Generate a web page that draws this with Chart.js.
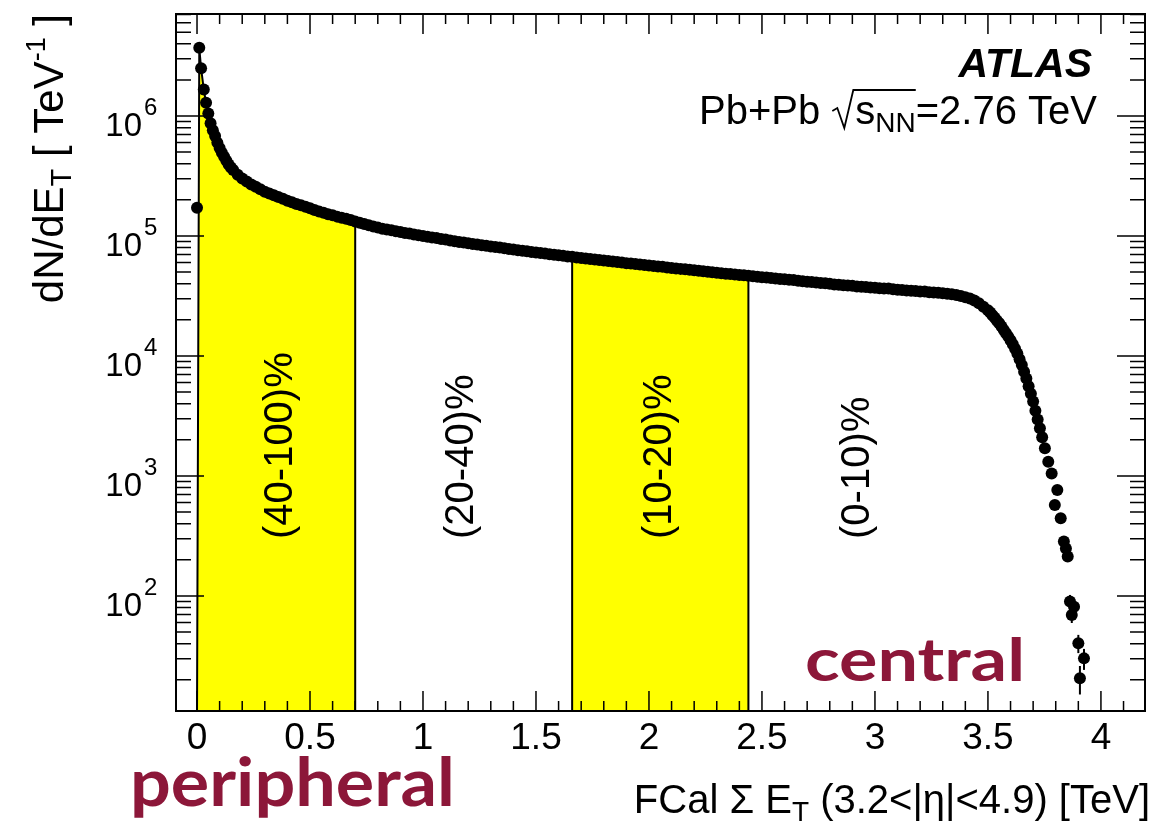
<!DOCTYPE html>
<html>
<head>
<meta charset="utf-8">
<script src="https://cdn.jsdelivr.net/npm/chart.js@4.4.1/dist/chart.umd.min.js"></script>
<style>
  html, body { margin: 0; padding: 0; background: #fff; }
  canvas { display: block; }
</style>
</head>
<body>
<canvas id="fcalChart" width="1157" height="830"></canvas>
<script>
// FCal sum ET [TeV] and dN/dET [TeV^-1]
const etSteep = [0.000, 0.010, 0.018, 0.030, 0.040, 0.050, 0.060, 0.070, 0.080, 0.090, 0.100, 0.110, 0.120, 0.130, 0.140, 0.150];
const dndetSteep = [172e3, 3.7e6, 2.5e6, 1.66e6, 1.29e6, 1.05e6, 870e3, 760e3, 680e3, 600e3, 540e3, 495e3, 457e3, 424e3, 394e3, 372e3];

const etBulk = [
  0.16, 0.18, 0.20, 0.22, 0.24, 0.26, 0.28, 0.30, 0.32, 0.34,
  0.36, 0.38, 0.40, 0.42, 0.44, 0.46, 0.48, 0.50, 0.52, 0.54,
  0.56, 0.58, 0.60, 0.62, 0.64, 0.66, 0.68, 0.70, 0.72, 0.74,
  0.76, 0.78, 0.80, 0.82, 0.84, 0.86, 0.88, 0.90, 0.92, 0.94,
  0.96, 0.98, 1.00, 1.02, 1.04, 1.06, 1.08, 1.10, 1.12, 1.14,
  1.16, 1.18, 1.20, 1.22, 1.24, 1.26, 1.28, 1.30, 1.32, 1.34,
  1.36, 1.38, 1.40, 1.42, 1.44, 1.46, 1.48, 1.50, 1.52, 1.54,
  1.56, 1.58, 1.60, 1.62, 1.64, 1.66, 1.68, 1.70, 1.72, 1.74,
  1.76, 1.78, 1.80, 1.82, 1.84, 1.86, 1.88, 1.90, 1.92, 1.94,
  1.96, 1.98, 2.00, 2.02, 2.04, 2.06, 2.08, 2.10, 2.12, 2.14,
  2.16, 2.18, 2.20, 2.22, 2.24, 2.26, 2.28, 2.30, 2.32, 2.34,
  2.36, 2.38, 2.40, 2.42, 2.44, 2.46, 2.48, 2.50, 2.52, 2.54,
  2.56, 2.58, 2.60, 2.62, 2.64, 2.66, 2.68, 2.70, 2.72, 2.74,
  2.76, 2.78, 2.80, 2.82, 2.84, 2.86, 2.88, 2.90, 2.92, 2.94,
  2.96, 2.98, 3.00, 3.02, 3.04, 3.06, 3.08, 3.10, 3.12, 3.14,
  3.16, 3.18, 3.20, 3.22, 3.24, 3.26, 3.28, 3.30, 3.32, 3.34,
  3.36, 3.38, 3.40, 3.42, 3.44, 3.46, 3.48
];
const dndetBulk = [
  355e3, 324e3, 302e3, 285e3, 269e3, 257e3, 245e3, 234e3, 226e3, 219e3,
  211e3, 204e3, 197e3, 191e3, 185e3, 180e3, 175e3, 170e3, 165e3, 160e3,
  156e3, 152e3, 149e3, 145e3, 142e3, 139e3, 136e3, 132e3, 129e3, 126e3,
  123e3, 120e3, 117.5e3, 115e3, 113.5e3, 111.5e3, 109.6e3, 108e3, 106e3, 104.7e3,
  103e3, 101.4e3, 100e3, 98.6e3, 97.3e3, 96.0e3, 94.6e3, 93.3e3, 91.8e3, 90.6e3,
  89.3e3, 88.1e3, 87.1e3, 85.9e3, 84.9e3, 83.9e3, 82.8e3, 81.8e3, 80.9e3, 80.2e3,
  78.9e3, 78.0e3, 77.1e3, 76.2e3, 75.3e3, 74.5e3, 73.6e3, 72.8e3, 72.1e3, 71.3e3,
  70.6e3, 69.8e3, 69.2e3, 68.4e3, 67.6e3, 67.0e3, 66.2e3, 65.6e3, 64.9e3, 64.3e3,
  63.7e3, 63.1e3, 62.4e3, 61.8e3, 61.2e3, 60.7e3, 60.0e3, 59.4e3, 58.9e3, 58.3e3,
  57.8e3, 57.3e3, 56.8e3, 56.2e3, 55.7e3, 55.5e3, 54.7e3, 54.2e3, 53.7e3, 53.2e3,
  52.7e3, 52.2e3, 51.8e3, 51.3e3, 50.8e3, 50.4e3, 49.9e3, 49.4e3, 49.0e3, 48.5e3,
  48.2e3, 47.8e3, 47.3e3, 47.1e3, 46.6e3, 46.1e3, 45.7e3, 45.3e3, 45.0e3, 44.6e3,
  44.2e3, 43.8e3, 43.5e3, 43.1e3, 42.9e3, 42.4e3, 42.0e3, 41.6e3, 41.3e3, 40.9e3,
  40.6e3, 40.3e3, 39.9e3, 39.5e3, 39.3e3, 38.9e3, 38.6e3, 38.4e3, 38.0e3, 37.8e3,
  37.5e3, 37.2e3, 37.0e3, 36.7e3, 36.5e3, 36.5e3, 36.0e3, 35.7e3, 35.5e3, 35.2e3,
  35.0e3, 34.8e3, 34.5e3, 34.5e3, 34.0e3, 33.8e3, 33.6e3, 33.3e3, 33.0e3, 32.7e3,
  32.2e3, 31.6e3, 30.9e3, 30.1e3, 29.0e3, 27.5e3, 25.7e3
];

const etTail = [
  3.50, 3.51, 3.52, 3.53, 3.54, 3.55, 3.56, 3.57, 3.58, 3.59,
  3.60, 3.61, 3.62, 3.63, 3.64, 3.65, 3.66, 3.67, 3.68, 3.69,
  3.70, 3.71, 3.72, 3.73, 3.74, 3.752, 3.767, 3.782, 3.796, 3.807,
  3.822, 3.836, 3.845, 3.853, 3.863, 3.871, 3.881, 3.900, 3.907, 3.925
];
const dndetTail = [
  24.0e3, 23.0e3, 21.9e3, 20.8e3, 19.7e3, 18.7e3, 17.6e3, 16.5e3, 15.5e3, 14.5e3,
  13.5e3, 12.5e3, 11.5e3, 10.5e3, 9.4e3, 8.4e3, 7.4e3, 6.5e3, 5.6e3, 4.85e3,
  4.17e3, 3.5e3, 2.95e3, 2.5e3, 2.1e3, 1.70e3, 1.315e3, 1.05e3, 573, 764,
  444, 284, 249, 213, 90, 69.5, 81.5, 40.4, 20.6, 30.2
];
const errTail = [
  0, 0, 0, 0, 0, 0, 0, 0, 0, 0,
  0, 0, 0, 0, 0, 0, 0, 0, 0, 0,
  0, 0, 0, 0, 0, 0, 0, 0, 0, 0,
  0, 0, 0, 0, 12, 10, 11, 7, 5.5, 6
];

// centrality classes
const bandEdges = [[0, 0.70], [1.66, 2.44]];
const centralityLabels = ['(40-100)%', '(20-40)%', '(10-20)%', '(0-10)%'];

// axes
const xTickValues = [0, 0.5, 1, 1.5, 2, 2.5, 3, 3.5, 4];
const xTickLabels = ['0', '0.5', '1', '1.5', '2', '2.5', '3', '3.5', '4'];
const yTickValues = [1e2, 1e3, 1e4, 1e5, 1e6];
const yTickExps = ['2', '3', '4', '5', '6'];

const X_MIN = -0.093, X_MAX = 4.195;
const Y_MIN = 11, Y_MAX = 7.08e6;
const FONT = '"Liberation Sans", Arial, Helvetica, sans-serif';

function toPoints(xs, ys) {
  return xs.map((x, i) => ({ x: x, y: ys[i] }));
}
const steepPts = toPoints(etSteep, dndetSteep);
const bulkPts = toPoints(etBulk, dndetBulk);
const tailPts = toPoints(etTail, dndetTail);
const allPts = steepPts.concat(bulkPts, tailPts);

// filled region under the points; the low underflow bin at 0 is left out
function bandPoints(lo, hi) {
  const inside = allPts.filter(p => p !== steepPts[0] && p.x >= lo - 1e-9 && p.x <= hi + 1e-9);
  return [{ x: lo, y: Y_MIN }].concat(inside, [{ x: hi, y: Y_MIN }]);
}

function setFont(ctx, size, style) {
  ctx.font = (style ? style + ' ' : '') + size + 'px ' + FONT;
}
function runsWidth(ctx, runs) {
  let w = 0;
  runs.forEach(r => { setFont(ctx, r.size, r.style); w += ctx.measureText(r.text).width; });
  return w;
}
function drawRuns(ctx, runs, x, y) {
  let cx = x;
  runs.forEach(r => {
    setFont(ctx, r.size, r.style);
    ctx.fillText(r.text, cx, y + (r.dy || 0));
    cx += ctx.measureText(r.text).width;
  });
  return cx;
}
function handText(ctx, text, left, right, base, size) {
  ctx.save();
  ctx.font = 'bold ' + size + 'px "Lato", "DejaVu Sans", sans-serif';
  const w = ctx.measureText(text).width;
  ctx.translate(left, base);
  ctx.scale((right - left) / w, 1);
  ctx.textAlign = 'left';
  ctx.fillText(text, 0, 0);
  ctx.restore();
}

const errorBars = {
  id: 'errorBars',
  afterDatasetsDraw(chart) {
    const { ctx, scales: { x: xs, y: ys } } = chart;
    ctx.save();
    ctx.strokeStyle = '#000';
    ctx.lineWidth = 2;
    etTail.forEach((x, i) => {
      if (!errTail[i]) return;
      const px = xs.getPixelForValue(x);
      ctx.beginPath();
      ctx.moveTo(px, ys.getPixelForValue(dndetTail[i] + errTail[i]));
      ctx.lineTo(px, ys.getPixelForValue(dndetTail[i] - errTail[i]));
      ctx.stroke();
    });
    ctx.restore();
  }
};

const atlasFrame = {
  id: 'atlasFrame',
  afterDraw(chart) {
    const { ctx, chartArea: a, scales: { x: xs, y: ys } } = chart;
    ctx.save();
    ctx.strokeStyle = '#000';
    ctx.fillStyle = '#000';

    // frame
    ctx.lineWidth = 2;
    ctx.strokeRect(a.left, a.top, a.right - a.left, a.bottom - a.top);

    // x ticks (bottom and top, pointing in)
    ctx.lineWidth = 1.5;
    ctx.beginPath();
    for (let i = -1; i <= 42; i++) {
      const px = xs.getPixelForValue(i / 10);
      if (px < a.left + 1 || px > a.right - 1) continue;
      const len = i % 5 === 0 ? 20 : 10;
      ctx.moveTo(px, a.bottom); ctx.lineTo(px, a.bottom - len);
      ctx.moveTo(px, a.top); ctx.lineTo(px, a.top + len);
    }
    // y ticks (log, left and right)
    for (let e = 1; e <= 6; e++) {
      for (let m = 1; m <= 9; m++) {
        const v = m * Math.pow(10, e);
        if (v < Y_MIN || v > Y_MAX) continue;
        const py = ys.getPixelForValue(v);
        const len = m === 1 ? 28 : 15;
        ctx.moveTo(a.left, py); ctx.lineTo(a.left + len, py);
        ctx.moveTo(a.right, py); ctx.lineTo(a.right - len, py);
      }
    }
    ctx.stroke();

    // x tick labels
    ctx.textAlign = 'center';
    ctx.textBaseline = 'alphabetic';
    setFont(ctx, 37);
    xTickValues.forEach((v, i) => {
      ctx.fillText(xTickLabels[i], xs.getPixelForValue(v), a.bottom + 38);
    });

    // y tick labels 10^n
    yTickValues.forEach((v, i) => {
      const py = ys.getPixelForValue(v);
      ctx.textAlign = 'right';
      setFont(ctx, 33);
      ctx.fillText('10', 142, py + 20);
      ctx.textAlign = 'left';
      setFont(ctx, 24);
      ctx.fillText(yTickExps[i], 144, py - 1);
    });

    // y axis title, rotated, flush with the top of the frame
    const yTitle = [
      { text: 'dN/dE', size: 42 },
      { text: 'T', size: 29, dy: 8 },
      { text: ' [ TeV', size: 42 },
      { text: '-1', size: 27, dy: -18 },
      { text: ' ]', size: 42 }
    ];
    ctx.save();
    ctx.translate(63, a.top);
    ctx.rotate(-Math.PI / 2);
    ctx.textAlign = 'left';
    drawRuns(ctx, yTitle, -runsWidth(ctx, yTitle), 0);
    ctx.restore();

    // x axis title, flush right
    const xTitle = [
      { text: 'FCal \u03a3 E', size: 40 },
      { text: 'T', size: 28, dy: 8 },
      { text: ' (3.2<|\u03b7|<4.9) [TeV]', size: 40 }
    ];
    ctx.textAlign = 'left';
    drawRuns(ctx, xTitle, 1150 - runsWidth(ctx, xTitle), 813);

    // ATLAS label
    ctx.textAlign = 'right';
    setFont(ctx, 41, 'bold italic');
    ctx.fillText('ATLAS', 1092, 77);

    // Pb+Pb sqrt(s_NN)=2.76 TeV
    ctx.textAlign = 'left';
    const base = 124;
    const head = [{ text: 'Pb+Pb ', size: 40 }];
    const rad = [{ text: 's', size: 40 }, { text: 'NN', size: 28, dy: 8 }];
    const tail = [{ text: '=2.76 TeV', size: 40 }];
    const sqrtW = 24;
    const total = runsWidth(ctx, head) + sqrtW + runsWidth(ctx, rad) + runsWidth(ctx, tail);
    let cx = 1097 - total;
    cx = drawRuns(ctx, head, cx, base);
    const sx = cx;
    cx += sqrtW;
    const radEnd = drawRuns(ctx, rad, cx, base);
    drawRuns(ctx, tail, radEnd, base);
    ctx.lineWidth = 1.8;
    ctx.beginPath();
    ctx.moveTo(sx + 1, base - 13);
    ctx.lineTo(sx + 6, base - 16);
    ctx.lineTo(sx + 13, base + 4);
    ctx.lineTo(sx + 22, base - 34);
    ctx.lineTo(radEnd, base - 34);
    ctx.stroke();

    // centrality class labels, rotated
    const labelX = [0.372, 1.173, 2.049, 2.925];
    setFont(ctx, 40);
    ctx.textBaseline = 'middle';
    centralityLabels.forEach((t, i) => {
      ctx.save();
      ctx.translate(xs.getPixelForValue(labelX[i]), 539);
      ctx.rotate(-Math.PI / 2);
      ctx.textAlign = 'left';
      ctx.fillText(t, 0, 0);
      ctx.restore();
    });

    // hand-written annotations
    ctx.textBaseline = 'alphabetic';
    ctx.fillStyle = '#8c1739';
    handText(ctx, 'central', 805, 1025, 681, 60);
    handText(ctx, 'peripheral', 130, 455, 806, 66);

    ctx.restore();
  }
};

const bandDatasets = bandEdges.map(([lo, hi]) => ({
  type: 'line',
  data: bandPoints(lo, hi),
  backgroundColor: '#ffff00',
  borderColor: '#000',
  borderWidth: 2,
  pointRadius: 0,
  tension: 0,
  fill: 'start',
  order: 2
}));

new Chart(document.getElementById('fcalChart'), {
  type: 'scatter',
  data: {
    datasets: [{
      data: allPts,
      backgroundColor: '#000',
      borderColor: '#000',
      borderWidth: 0,
      pointRadius: 6,
      order: 0
    }].concat(bandDatasets)
  },
  options: {
    responsive: false,
    animation: false,
    layout: { padding: { left: 176, right: 12, top: 14, bottom: 119 } },
    plugins: { legend: { display: false }, tooltip: { enabled: false } },
    scales: {
      x: { type: 'linear', min: X_MIN, max: X_MAX, display: false },
      y: { type: 'logarithmic', min: Y_MIN, max: Y_MAX, display: false }
    }
  },
  plugins: [errorBars, atlasFrame]
});
</script>
</body>
</html>
